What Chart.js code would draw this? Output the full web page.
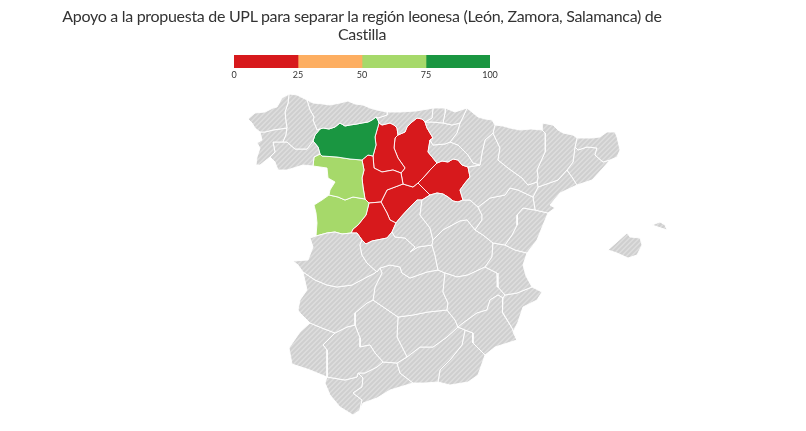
<!DOCTYPE html>
<html lang="es">
<head>
<meta charset="utf-8">
<title>Apoyo a la propuesta de UPL</title>
<script src="https://cdn.jsdelivr.net/npm/chart.js@4"></script>
<style>
  html, body { margin: 0; padding: 0; background: #fff; }
  #wrap { position: relative; width: 806px; height: 431px; overflow: hidden; }
  #mapChart { position: absolute; left: 0; top: 0; }
  #scaleChart { position: absolute; left: 224px; top: 0; }
  #title { position: absolute; left: 0; top: 7px; width: 724px; text-align: center; color: #333; font: 16px/18px Lato, sans-serif; letter-spacing: -0.3px; white-space: pre-line; }
</style>
</head>
<body>
<div id="wrap">
  <canvas id="mapChart" width="806" height="431"></canvas>
  <canvas id="scaleChart" width="276" height="81"></canvas>
  <div id="title"></div>
</div>
<script>
const titleLines = ['Apoyo a la propuesta de UPL para separar la región leonesa (León, Zamora, Salamanca) de', 'Castilla'];

// colour scale
const binLabels = ['0-25', '25-50', '50-75', '75-100'];
const binSizes = [25, 25, 25, 25];
const binColors = ['#d7191c', '#fdae61', '#a6d96a', '#1a9641'];
const scaleTicks = [0, 25, 50, 75, 100];

// coast and frontier, x,y pairs in map units
const cCor = [[260,132],[255,128],[252,123],[248,119],[255,113],[265,112],[273,108],[277,107],[282,98],[289,94]];
const cLug = [[289,94],[297,95],[307,100]];
const cAst = [[307,100],[313,103],[323,104],[330,105],[340,103],[348,101],[355,104],[363,105],[370,108],[377,110],[387,112]];
const cCan = [[387,112],[400,112],[416,111],[428,109],[433,108]];
const cViz = [[433,108],[445,108]];
const cGui = [[445,108],[455,112],[467,108]];
const cNav = [[467,108],[478,117],[485,119],[492,120],[495,125]];
const cHue = [[495,125],[503,126],[510,128],[520,130],[531,129],[542,130]];
const cLle = [[542,130],[542,123],[553,125],[558,130],[563,133],[573,135],[577,138]];
const cGir = [[577,138],[583,138],[592,138],[600,137],[607,132],[615,132],[617,137],[620,150],[617,157],[610,160]];
const cBar = [[610,160],[603,168],[592,180],[577,185]];
const cTar = [[577,185],[560,193],[550,205],[555,208],[548,213]];
const cCas = [[548,213],[543,225],[537,240],[527,253]];
const cVal = [[527,253],[523,265],[526,276],[532,287]];
const cAli = [[532,287],[542,292],[537,300],[523,307],[518,322],[513,332],[517,340]];
const cMur = [[517,340],[495,347],[485,355]];
const cAlm = [[485,355],[478,375],[468,382],[450,385],[438,382]];
const cGra = [[438,382],[425,383],[413,383]];
const cMal = [[413,383],[390,390],[377,398],[363,403],[360,410]];
const cCad = [[360,410],[353,415],[340,407],[330,395],[325,383],[327,377]];
const cHuelva = [[327,377],[310,370],[292,364],[289,348],[300,332],[310,323]];
const cBad = [[310,323],[300,313],[298,310],[300,300],[307,290],[303,272]];
const cCac = [[303,272],[298,265],[293,261],[308,260],[313,247],[310,238],[316,236]];
const cSal = [[316,236],[317,223],[316,213],[314,205],[322,200],[329,195]];
const cZam = [[329,195],[330,190],[335,182],[328,178],[327,168],[313,166]];
const cOur = [[313,166],[303,165],[287,170],[278,170],[275,162],[270,157]];
const cPon = [[270,157],[260,165],[256,165],[257,157],[260,148],[257,143],[262,140],[260,132]];

// inner borders, each one shared by the two provinces it separates
const cor_lug = [[289,94],[288,103],[285,112],[286,122],[287,128]];
const cor_pon = [[287,128],[273,130],[265,132],[260,132]];
const lug_pon = [[287,128],[286,135],[283,142]];
const pon_our = [[283,142],[273,142],[275,152],[270,157]];
const lug_our = [[283,142],[287,142],[295,149],[307,149],[313,141]];
const lug_leo = [[313,141],[315,135],[320,129]];
const our_leo = [[313,141],[318,147],[320,154]];
const our_zam = [[320,154],[314,157],[313,166]];
const ast_lug = [[307,100],[310,110],[314,117],[313,120],[317,130],[320,129]];
const ast_leo = [[320,129],[323,128],[329,129],[335,127],[340,123],[345,126],[350,125],[357,124],[362,123],[368,122],[372,120],[376,117]];
const ast_can = [[376,117],[378,118],[387,115],[387,112]];
const can_leo = [[376,117],[378,120],[379,123]];
const can_pal = [[379,123],[382,125],[386,124],[390,123],[394,125],[397,128],[398,135]];
const can_bur = [[398,135],[405,132],[407,127],[412,122],[417,118],[422,119],[425,122]];
const can_viz = [[425,122],[432,118],[433,108]];
const viz_ala = [[425,122],[432,122],[443,123]];
const viz_gui = [[443,123],[445,113],[445,108]];
const gui_ala = [[443,123],[452,125],[460,123]];
const gui_nav = [[460,123],[463,117],[467,108]];
const ala_nav = [[460,123],[457,133],[450,142]];
const ala_rio = [[450,142],[445,144],[433,145],[430,140]];
const ala_bur = [[430,140],[433,138],[430,133],[427,128],[425,122]];
const nav_rio = [[450,142],[458,145],[468,155],[473,163],[480,165]];
const rio_zar = [[480,165],[468,167]];
const rio_sor = [[468,167],[462,165],[458,160],[453,159],[448,162],[442,161],[437,163]];
const bur_rio = [[437,163],[428,152],[430,140]];
const nav_zar = [[480,165],[482,153],[485,140],[493,133]];
const nav_hue = [[493,133],[495,125]];
const zar_hue = [[493,133],[500,148],[498,160],[508,168],[522,178],[528,185],[537,182]];
const hue_lle = [[542,130],[545,133],[545,152],[537,170],[538,177],[537,182]];
const zar_lle = [[537,182],[538,187]];
const zar_tar = [[538,187],[533,197]];
const zar_ter = [[533,197],[518,190],[510,188],[505,195],[490,198],[478,207]];
const zar_gua = [[478,207],[470,200],[463,200]];
const sor_zar = [[463,200],[460,190],[465,183],[470,177],[468,167]];
const lle_tar = [[538,187],[558,180],[567,170]];
const lle_bar = [[567,170],[573,162],[575,147]];
const lle_gir = [[575,147],[577,138]];
const gir_bar = [[575,147],[578,150],[587,147],[597,148],[595,155],[603,162],[610,160]];
const bar_tar = [[567,170],[572,177],[577,185]];
const ter_tar = [[533,197],[535,210]];
const tar_cas = [[535,210],[548,213]];
const ter_cas = [[535,210],[523,208],[517,215],[517,225],[512,235],[505,245]];
const ter_val = [[505,245],[493,243]];
const ter_cue = [[493,243],[483,235],[475,230]];
const gua_ter = [[475,230],[482,220],[482,215],[478,207]];
const cas_val = [[505,245],[515,250],[527,253]];
const cue_val = [[493,243],[492,257],[485,267]];
const alb_val = [[485,267],[497,273],[498,287],[505,295]];
const val_ali = [[505,295],[517,293],[532,287]];
const alb_ali = [[505,295],[503,298]];
const ali_mur = [[503,298],[502,312],[512,328],[517,340]];
const alb_mur = [[503,298],[498,295],[490,300],[487,310],[477,313],[463,323],[458,327]];
const gra_mur = [[458,327],[465,330]];
const mur_alm = [[465,330],[473,333],[473,343],[485,355]];
const gra_alm = [[465,330],[462,345],[450,360],[440,370],[438,382]];
const cue_alb = [[485,267],[468,275],[457,277],[445,273]];
const cre_alb = [[445,273],[443,292],[448,303],[447,310]];
const jae_alb = [[447,310],[455,320],[458,327]];
const cue_cre = [[445,273],[438,270]];
const tol_cue = [[438,270],[435,255],[432,245]];
const mad_cue = [[432,245],[433,240]];
const gua_cue = [[433,240],[443,230],[460,221],[467,220],[475,230]];
const mad_gua = [[422,200],[420,215],[430,228],[433,240]];
const seg_gua = [[430,195],[422,200]];
const sor_gua = [[463,200],[458,202],[453,201],[448,197],[443,194],[437,193],[430,195]];
const sor_seg = [[430,195],[422,187],[418,183]];
const bur_sor = [[418,183],[423,178],[430,170],[437,163]];
const bur_seg = [[403,184],[413,187],[418,183]];
const seg_mad = [[422,200],[417,200],[410,207],[400,218],[396,223]];
const avi_mad = [[396,223],[392,232]];
const mad_tol = [[432,245],[418,247],[410,252],[415,247],[405,238],[395,237],[392,232]];
const avi_tol = [[362,240],[366,244],[372,241],[377,240],[387,238],[392,232]];
const tol_cre = [[438,270],[427,272],[410,278],[402,273],[400,267],[390,265],[380,268]];
const tol_cac = [[362,240],[360,245],[362,255],[367,263],[377,272],[380,268]];
const avi_cac = [[351,233],[357,233],[362,240]];
const sal_cac = [[351,233],[342,234],[335,232],[327,233],[316,236]];
const sal_avi = [[369,203],[366,215],[358,225],[353,229],[351,233]];
const cac_bad = [[380,268],[375,273],[367,277],[352,285],[337,287],[327,285],[315,280],[303,272]];
const bad_cre = [[380,268],[382,273],[375,287],[373,300]];
const bad_cor = [[373,300],[367,303],[355,313],[355,325]];
const bad_sev = [[355,325],[347,327],[335,333]];
const bad_hue = [[335,333],[322,328],[310,323]];
const cre_cor = [[373,300],[398,317]];
const cre_jae = [[398,317],[413,315],[428,312],[447,310]];
const jae_gra = [[458,327],[447,337],[433,347],[420,347],[407,357]];
const jae_cor = [[398,317],[397,337],[407,357]];
const cor_gra = [[407,357],[397,363]];
const cor_mal = [[397,363],[383,362]];
const cor_sev = [[355,325],[360,338],[360,347],[370,345],[375,353],[383,362]];
const gra_mal = [[397,363],[400,373],[413,383]];
const sev_mal = [[383,362],[377,367],[365,373],[358,373]];
const sev_cad = [[358,373],[357,377],[345,380],[327,377]];
const mal_cad = [[358,373],[363,378],[362,387],[353,393],[362,400],[360,410]];
const hue_sev = [[335,333],[323,345],[327,350],[327,362],[327,377]];
const leo_pal = [[379,123],[377,130],[375,137],[376,145],[373,156]];
const leo_val = [[373,156],[368,155],[362,160]];
const leo_zam = [[362,160],[350,159],[337,157],[322,156],[320,154]];
const zam_val = [[362,160],[364,170],[362,178],[363,187],[365,199]];
const zam_sal = [[365,199],[353,197],[345,200],[338,197],[329,195]];
const sal_val = [[365,199],[369,203]];
const val_avi = [[369,203],[381,202]];
const avi_seg = [[381,202],[387,213],[390,220],[396,223]];
const val_seg = [[381,202],[387,190],[403,184]];
const val_bur = [[403,184],[401,173]];
const val_pal = [[401,173],[393,170],[382,172],[374,168],[373,156]];
const pal_bur = [[401,173],[405,168],[398,158],[394,148],[395,138],[398,135]];
const mallorca = [[608,250],[617,242],[627,233],[630,237],[640,238],[642,245],[637,255],[628,258],[617,253]];
const menorca = [[652,225],[660,222],[665,225],[667,230],[658,227]];
const trevino = [[437,134],[444,133],[444,137],[438,137]];

// chains borders into a closed outline, turning each one round where needed
function ring() {
  const arcs = Array.from(arguments);
  const same = function (a, b) { return a[0] === b[0] && a[1] === b[1]; };
  let points = [];
  arcs.forEach(function (arc, i) {
    let a = arc.slice();
    if (i === 0) {
      const next = arcs[1];
      if (same(a[0], next[0]) || same(a[0], next[next.length - 1])) a.reverse();
    } else if (!same(a[0], points[points.length - 1])) {
      a.reverse();
    }
    points = points.concat(a);
  });
  return points;
}

const coruna = ring(cCor, cor_lug, cor_pon);
const lugo = ring(cLug, cor_lug, lug_pon, lug_our, lug_leo, ast_lug);
const pontevedra = ring(cor_pon, lug_pon, pon_our, cPon);
const ourense = ring(pon_our, lug_our, our_leo, our_zam, cOur);
const asturias = ring(cAst, ast_lug, ast_leo, ast_can);
const cantabria = ring(cCan, ast_can, can_leo, can_pal, can_bur, can_viz);
const vizcaya = ring(cViz, can_viz, viz_ala, viz_gui);
const guipuzcoa = ring(cGui, viz_gui, gui_ala, gui_nav);
const alava = ring(viz_ala, gui_ala, ala_nav, ala_rio, ala_bur);
const navarra = ring(cNav, gui_nav, ala_nav, nav_rio, nav_zar, nav_hue);
const rioja = ring(nav_rio, rio_zar, rio_sor, bur_rio, ala_rio);
const huesca = ring(cHue, nav_hue, zar_hue, hue_lle);
const zaragoza = ring(nav_zar, zar_hue, zar_lle, zar_tar, zar_ter, zar_gua, sor_zar, rio_zar);
const teruel = ring(zar_ter, ter_tar, ter_cas, ter_val, ter_cue, gua_ter);
const lleida = ring(cLle, hue_lle, zar_lle, lle_tar, lle_bar, lle_gir);
const girona = ring(cGir, lle_gir, gir_bar);
const barcelona = ring(cBar, gir_bar, lle_bar, bar_tar);
const tarragona = ring(cTar, bar_tar, lle_tar, zar_tar, ter_tar, tar_cas);
const castellon = ring(cCas, tar_cas, ter_cas, cas_val);
const valencia = ring(cVal, cas_val, ter_val, cue_val, alb_val, val_ali);
const alicante = ring(cAli, val_ali, alb_ali, ali_mur);
const murcia = ring(cMur, ali_mur, alb_mur, gra_mur, mur_alm);
const albacete = ring(cue_alb, cre_alb, jae_alb, alb_mur, alb_ali, alb_val);
const cuenca = ring(gua_cue, ter_cue, cue_val, cue_alb, cue_cre, tol_cue, mad_cue);
const guadalajara = ring(sor_gua, seg_gua, mad_gua, gua_cue, gua_ter, zar_gua);
const madrid = ring(seg_mad, mad_gua, mad_cue, mad_tol, avi_mad);
const toledo = ring(avi_tol, mad_tol, tol_cue, tol_cre, tol_cac);
const caceres = ring(sal_cac, cCac, cac_bad, tol_cac, avi_cac);
const badajoz = ring(cac_bad, bad_cre, bad_cor, bad_sev, bad_hue, cBad);
const ciudadReal = ring(tol_cre, cue_cre, cre_alb, cre_jae, cre_cor, bad_cre);
const huelva = ring(bad_hue, hue_sev, cHuelva);
const sevilla = ring(bad_sev, cor_sev, sev_mal, sev_cad, hue_sev);
const cordoba = ring(bad_cor, cre_cor, jae_cor, cor_gra, cor_mal, cor_sev);
const jaen = ring(cre_jae, jae_alb, jae_gra, jae_cor);
const granada = ring(jae_gra, gra_mur, gra_alm, cGra, gra_mal, cor_gra);
const almeria = ring(gra_alm, mur_alm, cAlm);
const malaga = ring(cor_mal, sev_mal, mal_cad, cMal, gra_mal);
const cadiz = ring(sev_cad, mal_cad, cCad);
const leon = ring(ast_leo, can_leo, leo_pal, leo_val, leo_zam, our_leo, lug_leo);
const zamora = ring(leo_zam, zam_val, zam_sal, cZam, our_zam);
const salamanca = ring(zam_sal, sal_val, sal_avi, sal_cac, cSal);
const avila = ring(sal_avi, val_avi, avi_seg, avi_mad, avi_tol, avi_cac);
const valladolid = ring(leo_val, val_pal, val_bur, val_seg, val_avi, sal_val, zam_val);
const palencia = ring(can_pal, pal_bur, val_pal, leo_pal);
const burgos = ring(can_bur, pal_bur, val_bur, bur_seg, bur_sor, bur_rio, ala_bur);
const soria = ring(bur_sor, rio_sor, sor_zar, sor_gua, sor_seg);
const segovia = ring(val_seg, bur_seg, sor_seg, seg_gua, seg_mad, avi_seg);

// greys have no value, coloured ones are estimated from their colour bin
const provinces = ['A Coruña','Lugo','Pontevedra','Ourense','Asturias','Cantabria','Bizkaia','Gipuzkoa','Álava','Navarra','La Rioja','Huesca','Zaragoza','Teruel','Lleida','Girona','Barcelona','Tarragona','Castellón','Valencia','Alicante','Murcia','Albacete','Cuenca','Guadalajara','Madrid','Toledo','Cáceres','Badajoz','Ciudad Real','Huelva','Sevilla','Córdoba','Jaén','Granada','Almería','Málaga','Cádiz','Mallorca','Menorca','León','Zamora','Salamanca','Ávila','Valladolid','Palencia','Burgos','Treviño','Soria','Segovia'];
const shapes = [coruna,lugo,pontevedra,ourense,asturias,cantabria,vizcaya,guipuzcoa,alava,navarra,rioja,huesca,zaragoza,teruel,lleida,girona,barcelona,tarragona,castellon,valencia,alicante,murcia,albacete,cuenca,guadalajara,madrid,toledo,caceres,badajoz,ciudadReal,huelva,sevilla,cordoba,jaen,granada,almeria,malaga,cadiz,mallorca,menorca,leon,zamora,salamanca,avila,valladolid,palencia,burgos,trevino,soria,segovia];
const support = [null,null,null,null,null,null,null,null,null,null,null,null,null,null,null,null,null,null,null,null,null,null,null,null,null,null,null,null,null,null,null,null,null,null,null,null,null,null,null,null,80,60,60,12,10,10,10,10,12,10];

function stripes() {
  const tile = document.createElement('canvas');
  tile.width = 5;
  tile.height = 5;
  const c = tile.getContext('2d');
  c.fillStyle = '#dedede';
  c.fillRect(0, 0, 5, 5);
  c.strokeStyle = '#cfcfcf';
  c.lineWidth = 2;
  c.beginPath();
  c.moveTo(-2, 7); c.lineTo(7, -2);
  c.moveTo(-2, 2); c.lineTo(2, -2);
  c.moveTo(3, 7); c.lineTo(7, 3);
  c.stroke();
  return c.createPattern(tile, 'repeat');
}

function colorFor(value, noData) {
  if (value === null) return noData;
  return binColors[Math.min(Math.floor(value / 25), binColors.length - 1)];
}

document.getElementById('title').textContent = titleLines.join('\n');

const noData = stripes();
const mapDatasets = provinces.map(function (name, i) {
  const outline = shapes[i].concat([shapes[i][0]]);
  return {
    label: name,
    data: outline.map(function (p) { return { x: p[0], y: p[1] }; }),
    showLine: true,
    fill: 'shape',
    backgroundColor: colorFor(support[i], noData),
    borderColor: '#fff',
    borderWidth: 0.9,
    pointRadius: 0,
    tension: 0
  };
});

new Chart(document.getElementById('mapChart'), {
  type: 'scatter',
  data: { datasets: mapDatasets },
  options: {
    responsive: false,
    animation: false,
    layout: { padding: 0 },
    plugins: { legend: { display: false }, tooltip: { enabled: false } },
    scales: {
      x: { type: 'linear', display: false, min: 0, max: 806 },
      y: { type: 'linear', display: false, min: 0, max: 431, reverse: true }
    }
  }
});

new Chart(document.getElementById('scaleChart'), {
  type: 'bar',
  data: {
    labels: ['Apoyo'],
    datasets: binSizes.map(function (size, i) {
      return {
        label: binLabels[i],
        data: [size],
        backgroundColor: binColors[i],
        borderWidth: 0,
        barPercentage: 1,
        categoryPercentage: 1
      };
    })
  },
  options: {
    indexAxis: 'y',
    responsive: false,
    animation: false,
    layout: { padding: { left: 10, right: 10, top: 55, bottom: 0 } },
    plugins: { legend: { display: false }, tooltip: { enabled: false } },
    scales: {
      x: {
        stacked: true,
        min: 0,
        max: 100,
        border: { display: false },
        grid: { display: false, drawTicks: false },
        afterBuildTicks: function (axis) { axis.ticks = scaleTicks.map(function (v) { return { value: v }; }); },
        ticks: { color: '#333', font: { family: 'Lato', size: 9 }, padding: 2, maxRotation: 0, autoSkip: false }
      },
      y: { stacked: true, display: false }
    }
  }
});
</script>
</body>
</html>
